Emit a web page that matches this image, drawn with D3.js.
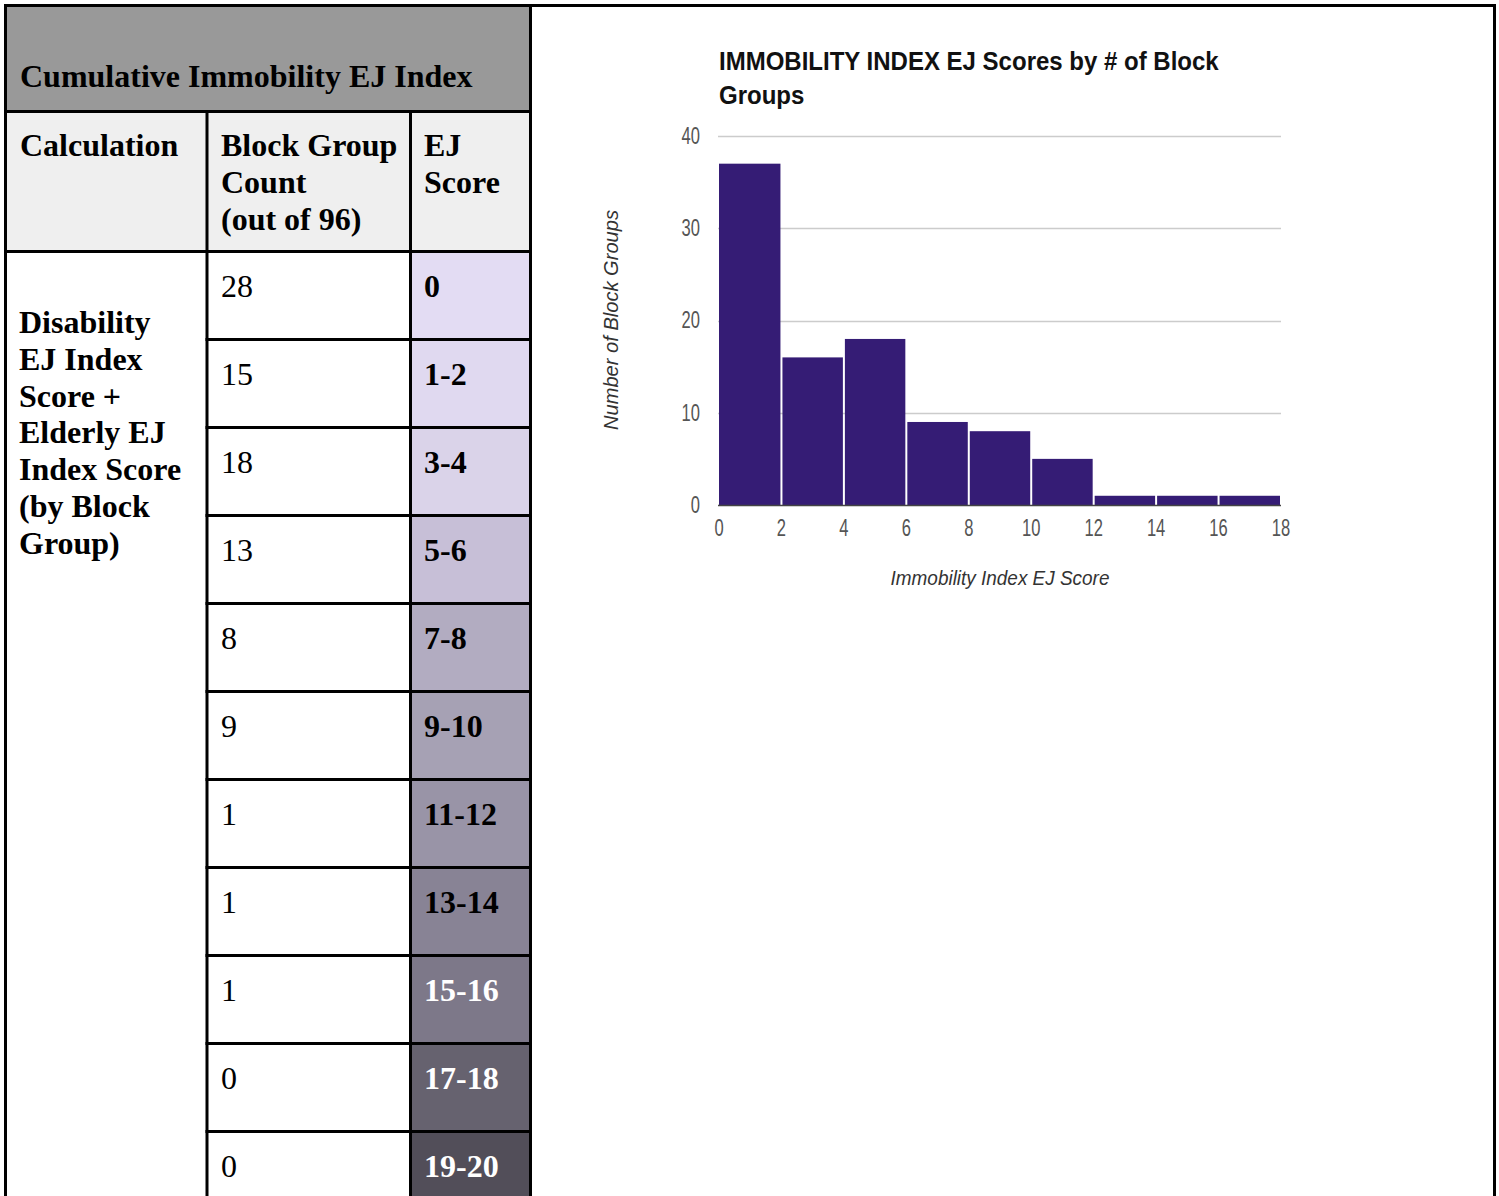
<!DOCTYPE html>
<html>
<head>
<meta charset="utf-8">
<script src="https://cdn.jsdelivr.net/npm/d3@7"></script>
<style>
  html, body { margin: 0; padding: 0; background: #fff; }
  svg { display: block; }
</style>
</head>
<body>
<svg id="page" width="1499" height="1196"></svg>
<script>
// ---- Table data ----
const tableTitle = "Cumulative Immobility EJ Index";
const headerCalc = ["Calculation"];
const headerCount = ["Block Group", "Count", "(out of 96)"];
const headerScore = ["EJ", "Score"];
const calcLines = ["Disability", "EJ Index", "Score +", "Elderly EJ", "Index Score", "(by Block", "Group)"];
const scoreLabels = ["0", "1-2", "3-4", "5-6", "7-8", "9-10", "11-12", "13-14", "15-16", "17-18", "19-20"];
const blockCounts = [28, 15, 18, 13, 8, 9, 1, 1, 1, 0, 0];
const scoreFills = ["#e3dcf3", "#e0d9f0", "#dad3e9", "#c7bfd7", "#b2acc1", "#a6a1b4",
                    "#9994a7", "#888395", "#7d7889", "#66626f", "#524e59"];
const scoreInk = ["#000", "#000", "#000", "#000", "#000", "#000", "#000", "#000", "#fff", "#fff", "#fff"];

// ---- Histogram data ----
const chartTitle = ["IMMOBILITY INDEX EJ Scores by # of Block", "Groups"];
const binStarts = [0, 2, 4, 6, 8, 10, 12, 14, 16];
const binWidth = 2;
const binCounts = [37, 16, 18, 9, 8, 5, 1, 1, 1];
const xTicks = [0, 2, 4, 6, 8, 10, 12, 14, 16, 18];
const yTicks = [0, 10, 20, 30, 40];
const xTitle = "Immobility Index EJ Score";
const yTitle = "Number of Block Groups";

const svg = d3.select("#page");
const serif = "'Liberation Serif', 'Times New Roman', serif";
const sans = "'Liberation Sans', Arial, sans-serif";

// ---------- Table ----------
const colX = [5.5, 207, 410.5, 530.5];
const tTop = 5.5, titleBottom = 111.5, headBottom = 251.5, rowH = 88;
const rowY = d3.scaleBand().domain(scoreLabels)
  .range([headBottom, headBottom + rowH * scoreLabels.length]);

const table = svg.append("g").attr("class", "table");

// backgrounds
table.append("rect").attr("x", colX[0]).attr("y", tTop)
  .attr("width", colX[3] - colX[0]).attr("height", titleBottom - tTop).attr("fill", "#999999");
table.append("rect").attr("x", colX[0]).attr("y", titleBottom)
  .attr("width", colX[3] - colX[0]).attr("height", headBottom - titleBottom).attr("fill", "#efefef");
table.selectAll("rect.score").data(scoreLabels).join("rect")
  .attr("class", "score")
  .attr("x", colX[2]).attr("y", d => rowY(d))
  .attr("width", colX[3] - colX[2]).attr("height", rowY.bandwidth())
  .attr("fill", (d, i) => scoreFills[i]);

// title text
table.append("text").attr("x", 20).attr("y", 87)
  .attr("font-family", serif).attr("font-weight", "bold").attr("font-size", 32)
  .text(tableTitle);

// header texts
function lines(g, arr, x, y0, lh, opts) {
  arr.forEach((t, i) => {
    g.append("text").attr("x", x).attr("y", y0 + i * lh)
      .attr("font-family", serif).attr("font-size", 32)
      .attr("font-weight", opts.bold ? "bold" : "normal")
      .attr("fill", opts.fill || "#000")
      .text(t);
  });
}
lines(table, headerCalc, 20, 156, 37, { bold: true });
lines(table, headerCount, 221, 156, 37, { bold: true });
lines(table, headerScore, 424, 156, 37, { bold: true });
lines(table, calcLines, 19, 333, 36.8, { bold: true });

// row values
table.selectAll("text.count").data(blockCounts).join("text")
  .attr("class", "count")
  .attr("x", 221).attr("y", (d, i) => rowY(scoreLabels[i]) + 45)
  .attr("font-family", serif).attr("font-size", 32)
  .text(d => d);
table.selectAll("text.scoreLabel").data(scoreLabels).join("text")
  .attr("class", "scoreLabel")
  .attr("x", 424).attr("y", d => rowY(d) + 45)
  .attr("font-family", serif).attr("font-size", 32).attr("font-weight", "bold")
  .attr("fill", (d, i) => scoreInk[i])
  .text(d => d);

// grid lines of table
const lineG = table.append("g").attr("stroke", "#000").attr("stroke-width", 3);
const bottom = 1200;
// horizontal rules
[titleBottom, headBottom].forEach(y =>
  lineG.append("line").attr("x1", colX[0] - 1.5).attr("x2", colX[3] + 1.5).attr("y1", y).attr("y2", y));
scoreLabels.slice(1).forEach(d =>
  lineG.append("line").attr("x1", colX[1] - 1.5).attr("x2", colX[3] + 1.5)
    .attr("y1", rowY(d)).attr("y2", rowY(d)));
// vertical rules
lineG.append("line").attr("x1", colX[1]).attr("x2", colX[1]).attr("y1", titleBottom).attr("y2", bottom);
lineG.append("line").attr("x1", colX[2]).attr("x2", colX[2]).attr("y1", titleBottom).attr("y2", bottom);
lineG.append("line").attr("x1", colX[3]).attr("x2", colX[3]).attr("y1", tTop).attr("y2", bottom);

// outer frame
const frame = svg.append("g").attr("stroke", "#000").attr("stroke-width", 3);
frame.append("line").attr("x1", 4).attr("x2", 1496).attr("y1", tTop).attr("y2", tTop);
frame.append("line").attr("x1", colX[0]).attr("x2", colX[0]).attr("y1", 4).attr("y2", bottom);
frame.append("line").attr("x1", 1494.5).attr("x2", 1494.5).attr("y1", 4).attr("y2", bottom);

// ---------- Histogram ----------
const x = d3.scaleLinear().domain([0, 18]).range([719, 1281]);
const y = d3.scaleLinear().domain([0, 40]).range([505, 136]);
const chart = svg.append("g").attr("class", "histogram");

// horizontal squeeze about a text's own anchor point
function squeeze(node, sx) {
  const xx = +node.getAttribute("x"), yy = +node.getAttribute("y");
  node.setAttribute("transform",
    `translate(${xx},${yy}) scale(${sx},1) translate(${-xx},${-yy})`);
}

// gridlines
chart.append("g").selectAll("line").data(yTicks.filter(t => t > 0)).join("line")
  .attr("x1", 718).attr("x2", x(18))
  .attr("y1", d => Math.round(y(d)) + 0.5).attr("y2", d => Math.round(y(d)) + 0.5)
  .attr("stroke", "#cccccc").attr("stroke-width", 1.5);

// bars
chart.append("g").selectAll("rect").data(binCounts).join("rect")
  .attr("x", (d, i) => x(binStarts[i]) + (i === 0 ? 0 : 1))
  .attr("width", (d, i) => x(binStarts[i] + binWidth) - x(binStarts[i]) - (i === 0 ? 1 : 2))
  .attr("y", d => y(d))
  .attr("height", d => y(0) - y(d))
  .attr("fill", "#351c75");

// baseline
chart.append("line").attr("x1", 718).attr("x2", x(18))
  .attr("y1", y(0) + 0.5).attr("y2", y(0) + 0.5)
  .attr("stroke", "#444").attr("stroke-width", 1.5);

// y tick labels
chart.append("g").selectAll("text").data(yTicks).join("text")
  .attr("x", 700).attr("y", d => y(d) + 8)
  .attr("text-anchor", "end")
  .attr("font-family", sans).attr("font-size", 23).attr("fill", "#555")
  .text(d => d)
  .each(function () { squeeze(this, 0.72); });

// x tick labels
chart.append("g").selectAll("text").data(xTicks).join("text")
  .attr("x", d => x(d)).attr("y", 536)
  .attr("text-anchor", "middle")
  .attr("font-family", sans).attr("font-size", 23).attr("fill", "#555")
  .text(d => d)
  .each(function () { squeeze(this, 0.72); });

// chart title, first line squeezed to its width, second line with the same squeeze
const titleText = chart.append("g").selectAll("text").data(chartTitle).join("text")
  .attr("x", 719).attr("y", (d, i) => 70 + i * 34)
  .attr("font-family", sans).attr("font-weight", "bold").attr("font-size", 25)
  .attr("fill", "#111")
  .text(d => d);
const titleSx = 500 / titleText.nodes()[0].getComputedTextLength();
titleText.each(function () { squeeze(this, titleSx); });

// axis titles
const xt = chart.append("text").attr("x", 1000).attr("y", 585)
  .attr("text-anchor", "middle")
  .attr("font-family", sans).attr("font-style", "italic").attr("font-size", 21)
  .attr("fill", "#333").text(xTitle);
squeeze(xt.node(), 219 / xt.node().getComputedTextLength());

const yt = chart.append("text").attr("x", 0).attr("y", 0)
  .attr("text-anchor", "middle")
  .attr("font-family", sans).attr("font-style", "italic").attr("font-size", 21)
  .attr("fill", "#333").text(yTitle);
{
  const sx = 220 / yt.node().getComputedTextLength();
  yt.attr("transform", `translate(618,320) rotate(-90) scale(${sx},1)`);
}
</script>
</body>
</html>
